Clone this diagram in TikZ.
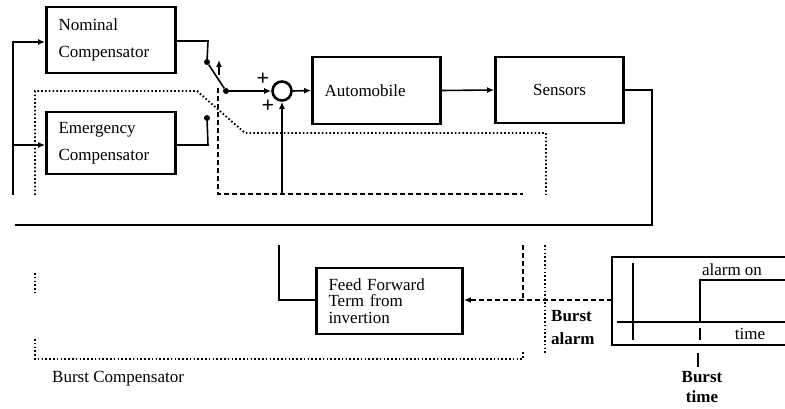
\documentclass[tikz,border=0pt]{standalone}
\usepackage{fontspec}
\setmainfont{Liberation Serif}
\usetikzlibrary{arrows.meta}
\begin{document}
\begin{tikzpicture}[x=1pt,y=-1pt,
  box/.style={draw,line width=2.8pt,rectangle,inner xsep=12pt,align=left,font=\fontsize{17}{27}\selectfont},
  lbl/.style={inner sep=0pt,font=\fontsize{17}{21}\selectfont},
  wire/.style={line width=1.6pt},
  arr/.style={wire,-{Latex[length=7pt,width=6pt]}},
  thickw/.style={line width=2.8pt},
  dotw/.style={line width=1.8pt,dash pattern=on 1.6pt off 2.2pt},
  dashw/.style={line width=1.8pt,dash pattern=on 5pt off 3pt},
  pin/.style={circle,fill,inner sep=0pt,minimum size=6pt}]
\useasboundingbox (0,0) rectangle (785,409);
% blocks
\node[box,text width=105pt,minimum height=66pt] (nom) at (111,40) {Nominal\\Compensator};
\node[box,text width=105pt,minimum height=62pt] (emg) at (111,143) {Emergency\\Compensator};
\node[draw,circle,line width=2.6pt,minimum size=19pt,inner sep=0pt] (sum) at (282,91) {};
\node[box,text width=104pt,minimum height=67pt] (auto) at (376.5,90.5) {Automobile};
\node[box,align=center,text width=104pt,minimum height=66pt] (sens) at (559.5,90) {Sensors};
\node[box,font=\fontsize{17}{16.5}\selectfont,text width=122pt,minimum height=66pt] (ff) at (389.5,301) {Feed Forward\\Term from\\invertion};
% switch points
\node[pin] (c1) at (207,62) {};
\node[pin] (c2) at (226,91) {};
\node[pin] (e1) at (207,118) {};
\coordinate (l1) at (13,195);
\coordinate (l2) at (13,42);
\coordinate (l3) at (13,145);
\coordinate (n1) at (208,41);
\coordinate (m1) at (208,145);
\coordinate (s1) at (652,90);
\coordinate (s2) at (652,225);
\coordinate (s3) at (15,225);
\coordinate (sa) at (219,75);
\coordinate (sb) at (219,60);
% main wires
\draw[arr] (l1) -- (l2) -- (l2 -| nom.west);
\draw[arr] (l3) -- (l3 -| emg.west);
\draw[wire] (n1 -| nom.east) -- (n1) -- (c1);
\draw[wire] (c1) -- (c2);
\draw[wire,-{Latex[length=7pt,width=6pt]}] (sa) -- (sb);
\draw[wire] (m1 -| emg.east) -- (m1) -- (e1);
\draw[arr] (c2) -- (sum.west);
\draw[arr] (sum.east) -- (auto.west);
\draw[arr] (auto.east) -- (sens.west);
\draw[thickw] (sens.east) -- (s1) -- (s2) -- (s3);
\coordinate (fb) at (282,194);
\draw[arr] (fb) -- (sum.south);
\node[lbl,font=\fontsize{22}{22}\selectfont\bfseries] (p1) at (263,79) {+};
\node[lbl,font=\fontsize{22}{22}\selectfont\bfseries] (p2) at (268,106) {+};
% dashed / dotted signal paths (upper part)
\coordinate (d1) at (218,88);
\coordinate (d2) at (218,194);
\coordinate (d3) at (523,194);
\draw[dashw] (d1) -- (d2) -- (d3);
\coordinate (o1) at (35,195);
\coordinate (o2) at (35,91);
\coordinate (o3) at (197,91);
\coordinate (o4) at (245,133);
\coordinate (o5) at (546,133);
\coordinate (o6) at (546,195);
\draw[dotw] (o1) -- (o2) -- (o3) -- (o4) -- (o5) -- (o6);
% lower part
\coordinate (f1) at (279,245);
\coordinate (f2) at (279,300);
\draw[wire] (f1) -- (f2) -- (f2 -| ff.west);
\coordinate (q1) at (523,245);
\coordinate (q2) at (523,300);
\draw[dashw] (q1) -- (q2);
\coordinate (ta) at (612,300);
\draw[dashw,-{Latex[length=7pt,width=6pt]}] (ta) -- (ta -| ff.east);
\coordinate (r1) at (545,245);
\coordinate (r2) at (545,354);
\draw[dotw] (r1) -- (r2);
\coordinate (b1) at (35,273);
\coordinate (b2) at (35,293);
\coordinate (b3) at (35,339);
\coordinate (b4) at (35,359);
\coordinate (b5) at (523,359);
\coordinate (b6) at (523,351);
\draw[dotw] (b1) -- (b2);
\draw[dotw] (b3) -- (b4) -- (b5) -- (b6);
\node[lbl,anchor=west] (bc) at (52,379) {Burst Compensator};
\node[lbl,anchor=west,align=left,font=\fontsize{17}{23}\selectfont\bfseries] (ba) at (551,328) {Burst\\alarm};
% time plot
\coordinate (t1) at (785,257);
\coordinate (t2) at (612,257);
\coordinate (t3) at (612,345);
\coordinate (t4) at (785,345);
\draw[line width=1.8pt] (t1) -- (t2) -- (t3) -- (t4);
\coordinate (ya) at (633,263);
\coordinate (yb) at (633,340);
\draw[wire] (ya) -- (yb);
\coordinate (xa) at (617,322);
\coordinate (xb) at (785,322);
\draw[wire] (xa) -- (xb);
\coordinate (u1) at (633,322);
\coordinate (u2) at (700,322);
\coordinate (u3) at (700,280);
\coordinate (u4) at (785,280);
\draw[thickw] (u1) -- (u2) -- (u3) -- (u4);
\coordinate (k1) at (700,328);
\coordinate (k2) at (700,340);
\draw[wire] (k1) -- (k2);
\coordinate (k3) at (698,353);
\coordinate (k4) at (698,367);
\draw[line width=1.2pt] (k3) -- (k4);
\node[lbl] (ao) at (732,270) {alarm on};
\node[lbl] (tm) at (750,334) {time};
\node[lbl,align=center,font=\fontsize{17}{20}\selectfont\bfseries] (bt) at (702,387) {Burst\\time};
\end{tikzpicture}
\end{document}
